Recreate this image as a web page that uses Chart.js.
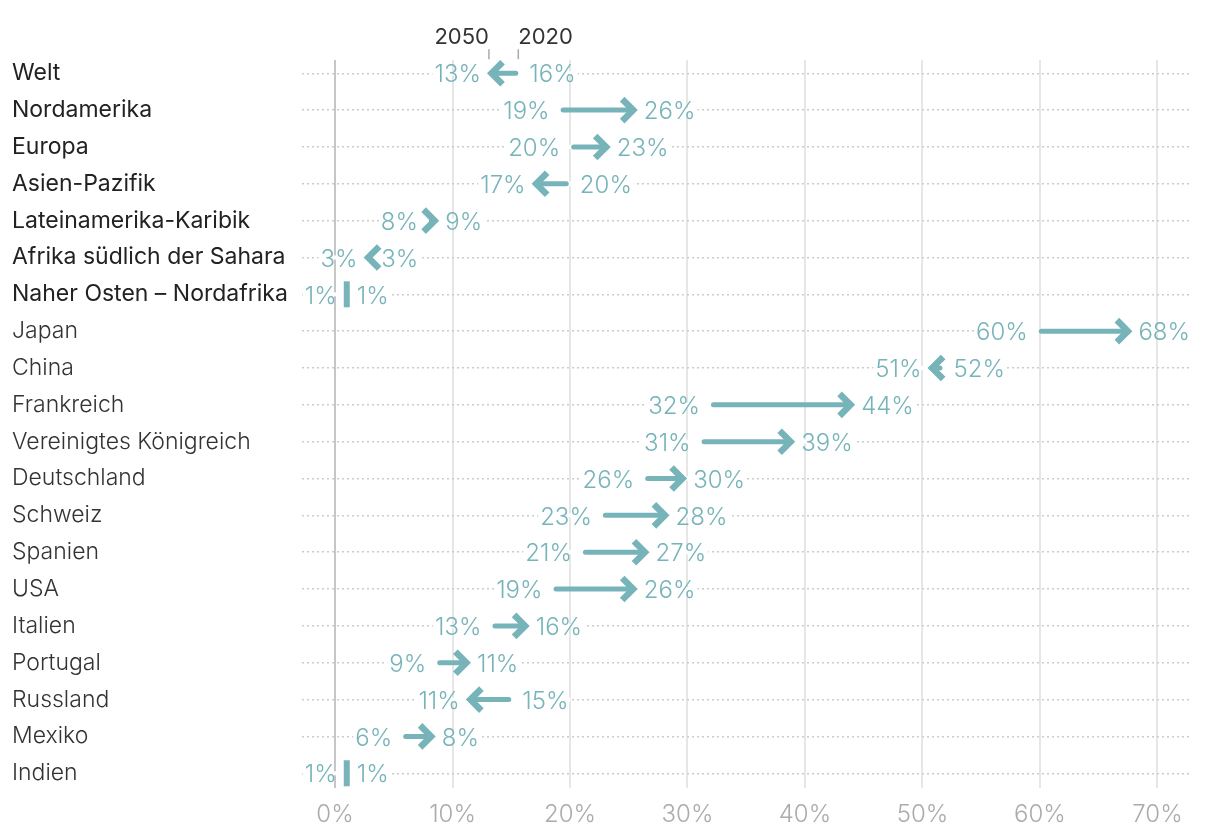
<!DOCTYPE html>
<html lang="de">
<head>
<meta charset="utf-8">
<title>2020 / 2050</title>
<script src="https://cdn.jsdelivr.net/npm/chart.js@4/dist/chart.umd.min.js"></script>
<style>
  html, body { margin: 0; padding: 0; background: #fff; }
  #wrap { width: 1220px; height: 836px; }
</style>
</head>
<body>
<div id="wrap"><canvas id="myChart"></canvas></div>
<script>
// rows, top to bottom (the first seven are regions)
var labels = ['Welt', 'Nordamerika', 'Europa', 'Asien-Pazifik', 'Lateinamerika-Karibik',
  'Afrika südlich der Sahara', 'Naher Osten – Nordafrika', 'Japan', 'China', 'Frankreich',
  'Vereinigtes Königreich', 'Deutschland', 'Schweiz', 'Spanien', 'USA', 'Italien',
  'Portugal', 'Russland', 'Mexiko', 'Indien'];
var regionCount = 7;

// values in %, arrow goes from 2020 to 2050
var werte2020 = [15.6, 19.2, 20.1, 19.9, 8.0, 3.0, 1.0, 59.9, 51.7, 32.0,
                 31.2, 26.4, 22.8, 21.1, 18.6, 13.4, 8.7, 15.0, 5.8, 1.0];
var werte2050 = [13.1, 25.6, 23.3, 16.9, 8.7, 2.6, 1.0, 67.7, 50.6, 44.1,
                 39.0, 29.8, 28.3, 26.6, 25.6, 16.4, 11.4, 11.3, 8.4, 1.0];

var xTicks = [0, 10, 20, 30, 40, 50, 60, 70];

var teal = '#77b4ba';
var FONT = 'Inter, "Noto Sans", sans-serif';

Chart.defaults.font.family = FONT;

var arrowPlugin = {
  id: 'arrows',
  afterDatasetsDraw: function(chart) {
    var ctx = chart.ctx, x = chart.scales.x, y = chart.scales.y;
    ctx.save();
    ctx.font = '300 24px ' + FONT;
    ctx.textBaseline = 'middle';
    for (var i = 0; i < labels.length; i++) {
      var py = y.getPixelForValue(i);
      var from = x.getPixelForValue(werte2020[i]);
      var to = x.getPixelForValue(werte2050[i]);
      var dir = to > from ? 1 : (to < from ? -1 : 0);
      var txtA = Math.round(werte2020[i]) + '%';
      var txtB = Math.round(werte2050[i]) + '%';
      var leftTxt, rightTxt, leftX, rightX;
      if (dir === 0) {
        leftTxt = txtA; rightTxt = txtB; leftX = from - 10; rightX = from + 10;
      } else if (dir > 0) {
        leftTxt = txtA; rightTxt = txtB; leftX = from - 11; rightX = to + 8;
      } else {
        leftTxt = txtB; rightTxt = txtA; leftX = to - 8; rightX = from + 11;
      }

      // hide the dotted row line behind labels and arrow
      var lw = ctx.measureText(leftTxt).width, rw = ctx.measureText(rightTxt).width;
      ctx.fillStyle = '#fff';
      ctx.fillRect(leftX - lw - 2, py - 2, (rightX + rw + 2) - (leftX - lw - 2), 4);

      ctx.fillStyle = teal;
      ctx.strokeStyle = teal;
      if (dir === 0) {
        ctx.fillRect(from - 3, py - 13, 6, 26);
      } else {
        var tipX = to + 2 * dir;
        var vx = tipX - 4.6 * dir;
        var start = from + 2.5 * dir;
        if ((vx - start) * dir > 0) {
          ctx.lineWidth = 5;
          ctx.lineCap = 'round';
          ctx.beginPath();
          ctx.moveTo(start, py);
          ctx.lineTo(vx - 1 * dir, py);
          ctx.stroke();
        }
        ctx.lineWidth = 6.5;
        ctx.lineCap = 'butt';
        ctx.lineJoin = 'miter';
        ctx.beginPath();
        ctx.moveTo(vx - 11 * dir, py - 11);
        ctx.lineTo(vx, py);
        ctx.lineTo(vx - 11 * dir, py + 11);
        ctx.stroke();
      }

      ctx.fillStyle = teal;
      ctx.textAlign = 'right';
      ctx.fillText(leftTxt, leftX, py + 2);
      ctx.textAlign = 'left';
      ctx.fillText(rightTxt, rightX, py + 2);
    }

    // small key above the first row
    var k50 = x.getPixelForValue(werte2050[0]);
    var k20 = x.getPixelForValue(werte2020[0]);
    var top = y.getPixelForValue(0);
    ctx.font = '400 22px ' + FONT;
    ctx.fillStyle = '#333';
    ctx.textBaseline = 'alphabetic';
    ctx.textAlign = 'right';
    ctx.fillText('2050', k50, top - 29);
    ctx.textAlign = 'left';
    ctx.fillText('2020', k20, top - 29);
    ctx.strokeStyle = '#aaa';
    ctx.lineWidth = 1.5;
    ctx.beginPath();
    ctx.moveTo(k50, top - 24); ctx.lineTo(k50, top - 14);
    ctx.moveTo(k20, top - 24); ctx.lineTo(k20, top - 14);
    ctx.stroke();
    ctx.restore();
  }
};

var ctx = document.getElementById('myChart').getContext('2d');
var chart = new Chart(ctx, {
  type: 'scatter',
  data: {
    datasets: [{
      label: '2050',
      data: werte2050.map(function(v, i) { return {x: v, y: i}; }),
      pointRadius: 0,
      pointHoverRadius: 0
    }]
  },
  plugins: [arrowPlugin],
  options: {
    responsive: true,
    maintainAspectRatio: false,
    animation: false,
    events: [],
    layout: { padding: { left: 12, top: 60, right: 30, bottom: 4 } },
    plugins: {
      legend: { display: false },
      tooltip: { enabled: false }
    },
    scales: {
      x: {
        type: 'linear',
        min: -2.81,
        max: 72.77,
        afterBuildTicks: function(s) {
          s.ticks = xTicks.map(function(v) { return {value: v}; });
        },
        afterFit: function(s) { s.height = 44; },
        grid: {
          color: function(c) { return c.tick && c.tick.value === 0 ? '#c6c6c6' : '#e6e6e6'; },
          lineWidth: 2,
          drawTicks: false
        },
        border: { display: false },
        ticks: {
          padding: 12,
          autoSkip: false,
          maxRotation: 0,
          color: '#ababab',
          font: { size: 24, weight: 300 },
          callback: function(v) { return v + '%'; }
        }
      },
      y: {
        type: 'linear',
        reverse: true,
        min: -0.36,
        max: 19.4,
        afterBuildTicks: function(s) {
          s.ticks = labels.map(function(l, i) { return {value: i}; });
        },
        afterFit: function(s) { s.width = 290; },
        grid: { color: '#cccccc', lineWidth: 1.5, drawTicks: false },
        border: { display: false, dash: [2, 3] },
        ticks: {
          crossAlign: 'far',
          padding: 0,
          autoSkip: false,
          callback: function(v) { return labels[v]; },
          color: function(c) { return c.index < regionCount ? '#222222' : '#333333'; },
          font: function(c) {
            return { size: 23, weight: c.index < regionCount ? 400 : 300 };
          }
        }
      }
    }
  }
});
</script>
</body>
</html>
